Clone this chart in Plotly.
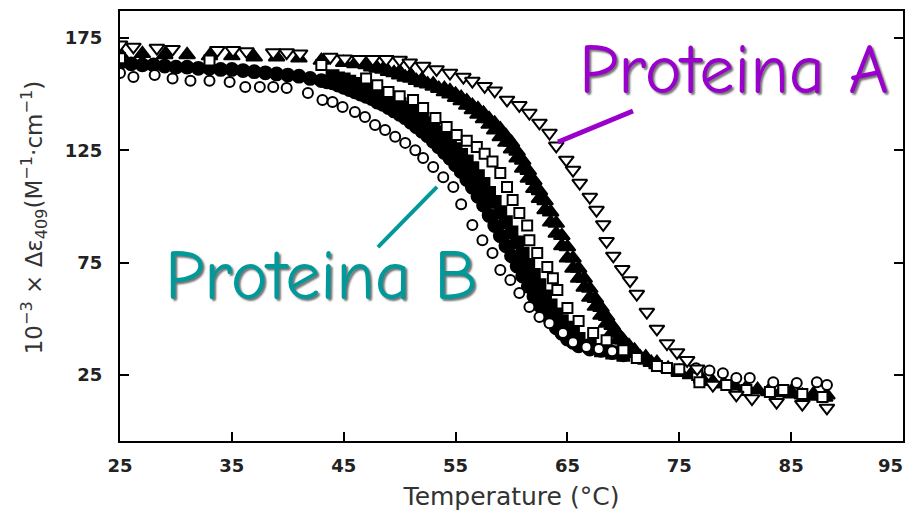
import plotly.graph_objects as go

# ---- data ----
open_circ_x = [25, 26.2, 28.1, 29.7, 31.3, 33, 34.8, 36.2, 37.5, 38.7, 39.9, 41.8, 43.1, 44, 44.9, 46, 46.9,
               47.8, 48.7, 49.6, 50.5, 51.4, 52.1, 53, 53.9, 54.8, 55.5, 56.5, 57.4, 58.3, 59, 59.9, 60.7,
               61.6, 62.5, 63.4, 64.6, 65.5, 66.7, 67.8, 69, 76.5, 77.7, 78.9, 80.1, 81.3, 83.4, 85.5, 87.3, 88.2]
open_circ_y = [159.4, 157.6, 158.5, 157, 156, 156, 155.4, 153.2, 153.2, 153.2, 152.7, 150.5, 147.4, 146.5, 144.3,
               142, 139.8, 136.3, 134, 131, 128.3, 125, 121.6, 117.6, 113, 108.7, 101, 91.7, 85, 79.3, 71.7,
               67.3, 61.5, 55.2, 50.8, 48, 43.7, 39.6, 37.4, 36.5, 35.5, 28, 27, 25.8, 23.6, 23.6, 21.8, 21.4,
               21.8, 20.5]

fill_circ_x = [25, 26, 27, 28, 29, 30, 31, 32, 33, 34, 35, 36, 37, 38, 39, 40, 41, 42, 43, 43.5, 44, 44.5, 45,
               45.5, 46, 46.5, 47, 47.5, 48, 48.5, 49, 49.5, 50, 50.5, 51, 51.5, 52, 52.5, 53, 53.5, 54, 54.5,
               55, 55.5, 56, 56.5, 57, 57.5, 58, 58.5, 59, 59.5, 60, 60.5, 61, 61.5, 62, 62.5, 63, 63.5, 64,
               64.5, 65, 65.5, 66, 67, 68, 69, 70]
fill_circ_y = [164, 163.5, 163, 163, 162.5, 162, 162, 161.5, 161.5, 161, 161, 160.5, 160, 159.5, 159, 158.5,
               158, 157, 156, 155.5, 155, 154, 153, 152, 151, 150, 149, 148, 146.5, 145.5, 144, 142.5, 141,
               139.5, 137.5, 135.5, 133.5, 131.5, 129, 126.5, 124, 121.5, 118.5, 115.5, 112, 108.5, 104.5,
               100.5, 96, 91.5, 87, 82.5, 78, 73.5, 69, 64.5, 60, 56, 52, 49, 46, 43.5, 41, 39.5, 38, 36.5,
               36, 35, 34]

fill_sq_x = [44, 44.5, 45, 45.5, 46, 46.5, 47, 47.5, 48, 48.5, 49, 49.5, 50, 50.5, 51, 51.5, 52, 52.5, 53,
             53.5, 54, 54.5, 55, 55.5, 56, 56.5, 57, 57.5, 58, 58.5, 59, 59.5, 60, 60.5, 61, 61.5, 62, 62.5,
             63, 63.5, 64, 64.5, 65, 65.5, 66, 67, 68, 69, 70]
fill_sq_y = [158, 157, 156.5, 155.5, 154.5, 153.5, 152.5, 151.5, 150.5, 149, 148, 147, 145.5, 144, 142.5, 141,
             139, 137, 135, 133, 130.5, 128, 125.5, 123, 120, 117, 113.5, 110, 106, 102, 97.5, 93, 88.5, 84,
             79, 74, 69.5, 65, 60, 56, 52, 49, 46, 43.5, 41, 38, 36, 35, 34]

open_sq_x = [25, 33, 43, 47, 48, 49, 50, 51.2, 52.1, 53.2, 54.2, 55.1,
             56, 56.9, 57.6, 58.3, 59, 59.6, 60.1, 60.7, 61.4, 61.6, 62.3, 63.2, 63.7, 64.1, 65, 66, 67.3,
             68.5, 70, 71.2, 73, 73.9, 75, 76.6, 76.8, 79.2, 81, 83.1, 84.3, 86, 87.8]
open_sq_y = [166, 165, 163, 157, 154, 151, 149, 147.4,
             143.8, 139.4, 135.4, 131.8, 129.2, 126.5, 123.5, 120, 114.9, 108.7, 102.9, 97.1, 91.5, 85, 79.3,
             73, 68, 62.8, 54.8, 49, 43.7, 40.5, 36, 32.5, 29, 28.1, 27.5, 25, 21.8, 20.5, 18.3, 17.4, 18.3,
             16.5, 15.2]

fill_tri_x = [25, 27, 29, 31, 33, 35, 37, 39, 41, 43, 45, 46, 47, 47.5, 48, 48.5, 49, 49.5, 50, 50.5, 51,
              51.5, 52, 52.5, 53, 53.5, 54, 54.5, 55, 55.5, 56, 56.5, 57, 57.5, 58, 58.5, 59, 59.5, 60, 60.5,
              61, 61.5, 62, 62.5, 63, 63.5, 64, 64.5, 65, 65.5, 66, 66.5, 67, 67.5, 68, 68.5, 69, 69.5, 70,
              70.5, 71, 71.5, 72, 72.5, 73, 74, 75, 76, 77, 78, 79, 80, 81, 82, 83, 84, 85, 86, 87, 88]
fill_tri_y = [168, 168, 167.5, 167.5, 167, 167, 166.5, 166.5, 166, 165, 164, 163.5, 163, 162, 161.5, 161,
              160, 159.5, 158.5, 157.5, 157, 156, 155, 154.5, 153.5, 152.5, 151, 150, 148.5, 147, 145, 143,
              141, 139, 136.5, 134, 131, 128.5, 125.5, 121.5, 117, 112.5, 108, 103.5, 98.5, 93, 88, 82.5, 77,
              72.5, 68, 64, 59.5, 55.5, 51.5, 48, 44, 40.5, 38, 36, 34.5, 33, 31.5, 30.5, 29.5, 28, 26.5, 25,
              23.5, 22, 21, 20, 19, 18.5, 17.5, 17, 16.5, 16, 15.5, 15]

fill_tri2_x = [50, 51, 52, 53, 54, 54.5, 55, 55.5, 56, 56.5, 57, 57.5, 58, 58.5, 59, 59.5, 60, 60.5, 61, 61.5,
               62, 62.5, 63, 63.5, 64, 64.5, 65, 65.5, 66, 66.5, 67, 67.5, 68, 68.5, 69, 69.5, 70, 70.5, 71,
               72, 73, 75, 77, 79, 81, 83, 85, 87, 88.2]
fill_tri2_y = [160, 158.5, 156.5, 154.5, 152.5, 151.5, 150, 148.5, 147, 145, 143.5, 141.5, 139, 137, 134.5,
               131.5, 128.5, 124.5, 120.5, 116, 111.5, 107, 102.5, 97.5, 92.5, 87, 82, 77, 72.5, 68, 63.5,
               59, 55, 51, 47, 43.5, 40.5, 38, 36, 33, 30.5, 26, 23, 21, 19.5, 18, 17.5, 16.5, 16]

open_tri_x = [25, 26.2, 28.3, 29.7, 33.7, 35.1, 36.3, 38.7, 39.9, 41.1, 43.8, 45.1, 46.4, 47.6, 48.8, 50, 50.9,
              52.1, 53.3, 54.5, 55.7, 56.5, 57.6, 58.5, 59.6, 60.7, 61.6, 62.5, 63.4, 64, 64.9, 65.5, 66.1,
              67, 67.6, 68.2, 68.5, 69.1, 69.9, 70.6, 71.2, 72.1, 73, 73.9, 74.8, 75.7, 76.6, 78, 80.1, 81.5,
              83.7, 86, 88.2]
open_tri_y = [172, 171, 170.5, 170, 169.5, 169.5, 169, 168.5, 168.5, 168, 166.5, 165.8, 165.5, 165.5, 165.5,
              165.2, 164, 162.5, 161, 159.4, 157.6, 155.8, 153.5, 151.5, 147.4, 145, 141.6, 137.2, 132.7, 127,
              120.7, 116.2, 110.4, 104.2, 98.4, 92, 84.5, 78, 72, 67, 61, 53, 45.5, 39, 35, 31.5, 27.8, 20.5,
              16.1, 14.5, 12.9, 12, 10.3]

x_ticks = [25, 35, 45, 55, 65, 75, 85, 95]
x_tick_text = ["25", "35", "45", "55", "65", "75", "85", "95\u00a0\u00a0\u00a0\u00a0"]
y_ticks = [25, 75, 125, 175]

fig = go.Figure()


def add(x, y, symbol, size, fill, lw=1.8):
    fig.add_trace(go.Scatter(
        x=x, y=y, mode="markers", showlegend=False, hoverinfo="skip",
        marker=dict(symbol=symbol, size=size, color=fill, line=dict(color="black", width=lw)),
    ))


add(fill_circ_x, fill_circ_y, "circle", 13, "black")
add(fill_sq_x, fill_sq_y, "square", 12, "black")
add(fill_tri_x, fill_tri_y, "triangle-up", 14, "black")
add(fill_tri2_x, fill_tri2_y, "triangle-up", 14, "black")
add(open_sq_x, open_sq_y, "square", 10, "white", 2)
add(open_circ_x, open_circ_y, "circle", 10, "white", 2)
add(open_tri_x, open_tri_y, "triangle-down", 13, "white", 2)

tick_font = dict(family="DejaVu Sans", size=18, color="#222", weight="bold")

# the page body adds an 8 px offset, so the figure is sized to fit inside the 914x515 window
fig.update_layout(
    width=906, height=507,
    margin=dict(l=112, r=11, t=3, b=74),
    paper_bgcolor="white", plot_bgcolor="white",
    xaxis=dict(range=[25, 95], tickvals=x_ticks, ticktext=x_tick_text, ticks="inside", ticklen=9,
               tickwidth=2, tickcolor="black", showline=True, linecolor="black", linewidth=2, mirror=True,
               showgrid=False, zeroline=False, tickfont=tick_font, ticklabelstandoff=7,
               ticklabeloverflow="allow", automargin=False,
               title=dict(text="Temperature (°C)", font=dict(family="DejaVu Sans", size=25, color="#333"),
                          standoff=13)),
    yaxis=dict(range=[-4.4, 187], tickvals=y_ticks, ticks="inside", ticklen=9, tickwidth=2,
               tickcolor="black", showline=True, linecolor="black", linewidth=2, mirror="ticks",
               showgrid=False, zeroline=False, tickfont=tick_font, ticklabelstandoff=12,
               automargin=False),
    annotations=[
        dict(xref="paper", yref="paper", x=-0.11, y=0.52, textangle=-90, showarrow=False,
             xanchor="center", yanchor="middle",
             text="10<sup>−3</sup> × Δε<sub>409</sub>(M<sup>−1</sup>·cm<sup>−1</sup>)",
             font=dict(family="DejaVu Sans", size=23, color="#333")),
        dict(xref="x", yref="y", x=79.9, y=160.5, text="Proteina A", showarrow=False,
             xanchor="center", yanchor="middle",
             font=dict(family="Comic Sans MS, Comic Neue, Open Sans", size=70, color="#9900CC",
                       shadow="2px 2px 2px rgba(0,0,0,0.55)")),
        dict(xref="x", yref="y", x=43, y=69, text="Proteina B", showarrow=False,
             xanchor="center", yanchor="middle",
             font=dict(family="Comic Sans MS, Comic Neue, Open Sans", size=70, color="#009999",
                       shadow="2px 2px 2px rgba(0,0,0,0.55)")),
    ],
    shapes=[
        dict(type="line", xref="x", yref="y", x0=64.16, y0=128.7, x1=70.86, y1=142.5,
             line=dict(color="#9900CC", width=5)),
        dict(type="line", xref="x", yref="y", x0=53.34, y0=108.7, x1=48.06, y1=81.9,
             line=dict(color="#009999", width=4)),
    ],
)

fig.write_html("out.html")
